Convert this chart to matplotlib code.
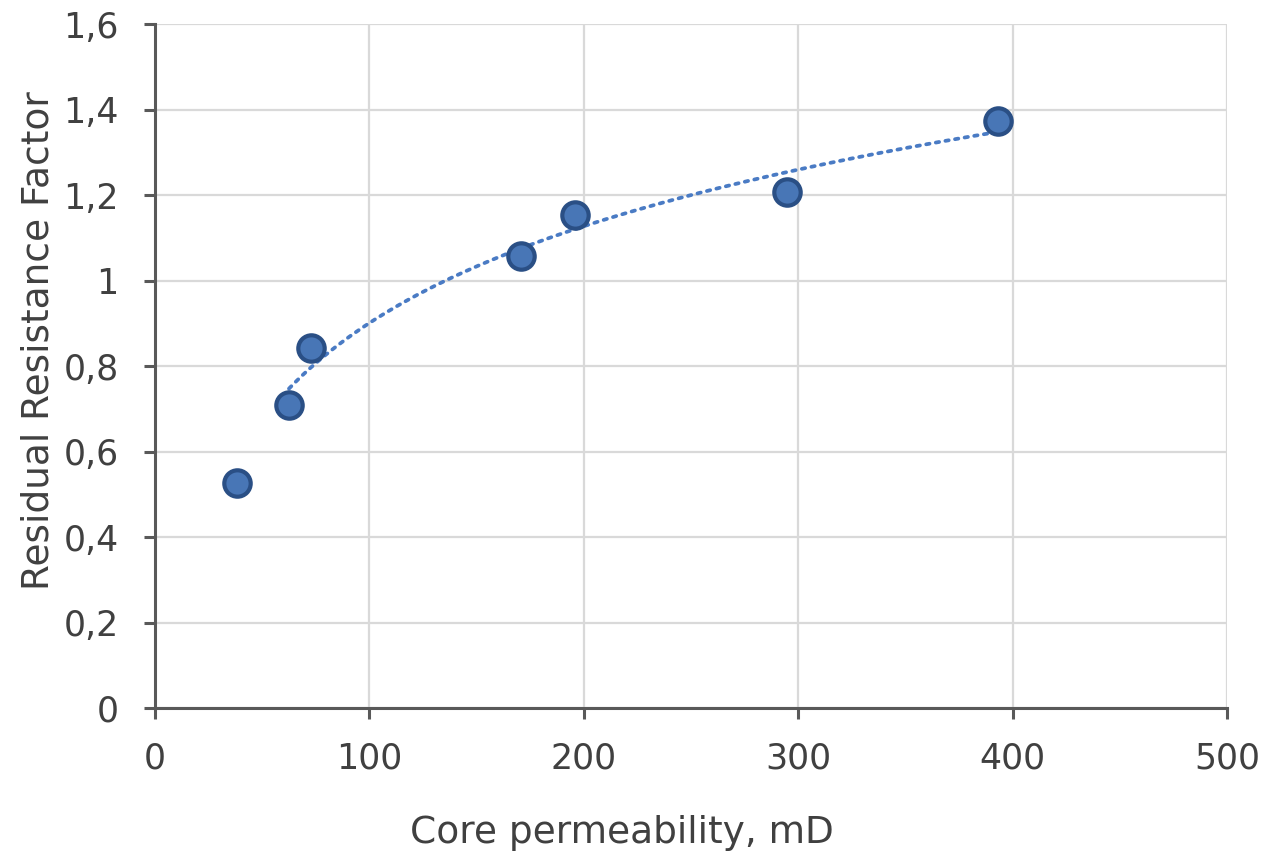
import matplotlib.pyplot as plt
import numpy as np
from matplotlib.ticker import FuncFormatter

permeability = [38.2, 62.5, 72.8, 170.7, 195.9, 294.8, 393.2]
rrf = [0.526, 0.709, 0.842, 1.057, 1.153, 1.207, 1.373]
# log trend is fitted on all points but the first one
trend_from = 1

x_ticks = [0, 100, 200, 300, 400, 500]
y_ticks = [0, 0.2, 0.4, 0.6, 0.8, 1.0, 1.2, 1.4, 1.6]

TEXT = "#404040"
AXIS = "#595959"


def comma(v, _pos):
  s = f"{v:.1f}".rstrip("0").rstrip(".")
  return s.replace(".", ",")


def main():
  plt.rcParams['font.family'] = ['DejaVu Sans']
  fig = plt.figure(figsize=(12.64, 8.55), dpi=100)
  ax = fig.add_axes([0.1226, 0.1719, 0.8481, 0.8000])

  xs = np.array(permeability[trend_from:])
  ys = np.array(rrf[trend_from:])
  a, b = np.polyfit(np.log(xs), ys, 1)
  xt = np.linspace(xs.min(), xs.max(), 200)
  ax.plot(xt, a * np.log(xt) + b, linestyle=(0, (0.9, 1.7)),
          color="#4a7bc4", linewidth=2.7, dash_capstyle="round", zorder=3)

  ax.plot(permeability, rrf, "o", markersize=19, markerfacecolor="#4876b6",
          markeredgecolor="#2a4f85", markeredgewidth=3.0, zorder=4)

  ax.set_xlim(0, 500)
  ax.set_ylim(0, 1.6)
  ax.set_xticks(x_ticks)
  ax.set_yticks(y_ticks)
  ax.yaxis.set_major_formatter(FuncFormatter(comma))
  ax.grid(True, color="#d9d9d9", linewidth=1.6)
  ax.set_axisbelow(True)

  for side in ("top", "right"):
    ax.spines[side].set_visible(False)
  for side in ("left", "bottom"):
    ax.spines[side].set_color(AXIS)
    ax.spines[side].set_linewidth(2.2)
  ax.tick_params(direction="out", length=8, width=2.2, color=AXIS,
                 labelsize=25, labelcolor=TEXT)
  ax.tick_params(axis="y", pad=18)
  ax.tick_params(axis="x", pad=16)

  ax.set_xlabel("Core permeability, mD", fontsize=27, color=TEXT)
  ax.xaxis.set_label_coords(0.436, -0.182)
  ax.set_ylabel("Residual Resistance Factor", fontsize=27, color=TEXT)
  ax.yaxis.set_label_coords(-0.109, 0.537)
  ax.xaxis.label.set_va("center")
  ax.yaxis.label.set_va("center")

  fig.savefig("out.png", dpi=100)


if __name__ == "__main__":
  main()
